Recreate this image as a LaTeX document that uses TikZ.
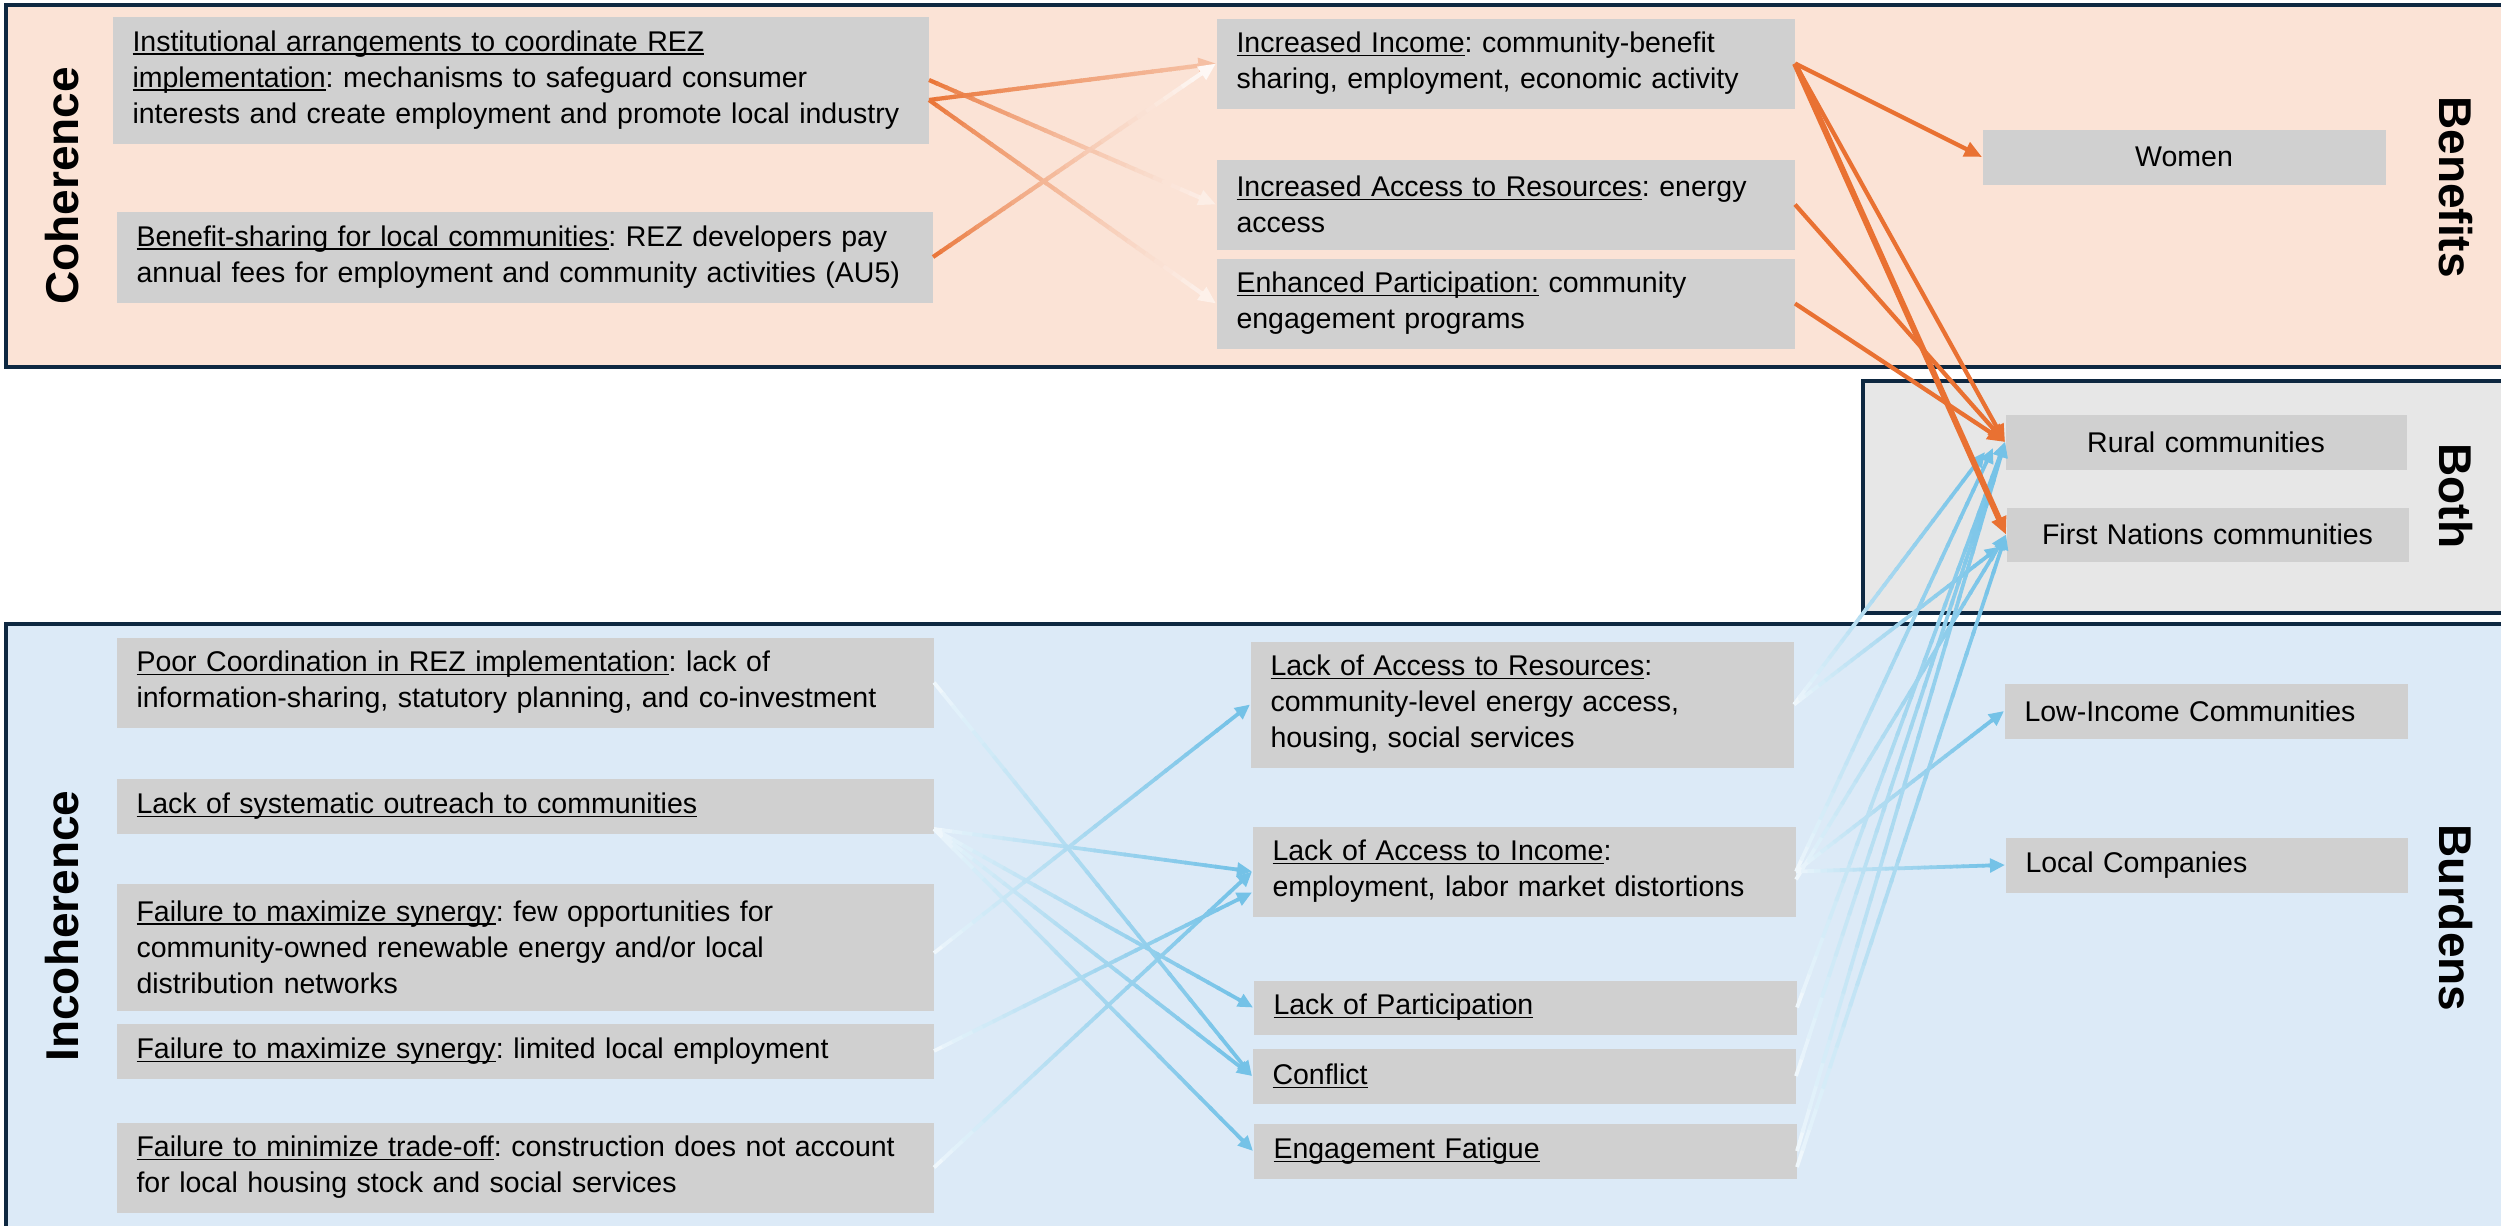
\documentclass[tikz,border=0pt]{standalone}
\usepackage{fontspec}
\setmainfont{Liberation Sans}
\usetikzlibrary{calc,arrows.meta}

\definecolor{peach}{HTML}{FBE3D6}
\definecolor{skyb}{HTML}{DCEAF7}
\definecolor{bothg}{HTML}{E7E7E7}
\definecolor{boxg}{HTML}{D0D0D0}
\definecolor{navy}{HTML}{0E2841}
\definecolor{orng}{HTML}{E97132}
\definecolor{bluA}{HTML}{74C2E7}
\definecolor{bluS}{HTML}{F4F9FD}

% underline set just below the baseline
\newcommand\udl[1]{\leavevmode\setbox0\hbox{#1}\rlap{\rule[-1.4pt]{\wd0}{0.55pt}}\box0\relax}
\newcommand\bodyfont{\frenchspacing\fontsize{11.4pt}{14.4pt}\selectfont}
\newcommand\headfont{\fontsize{18.4pt}{22pt}\selectfont\bfseries}

% connector whose colour runs from #3 (start) to #4 (end), tip length #5 pt, tip width #6 pt, line width #7
\newcommand\nseg{30}
\newcommand\fadearrow[7]{%
  \coordinate (fa-s) at #1;
  \coordinate (fa-e) at #2;
  \coordinate (fa-b) at ($(fa-e)!#5pt!(fa-s)$);
  \coordinate (fa-c) at ($(fa-e)!#5pt+0.6pt!(fa-s)$);
  \foreach \i in {1,...,\nseg}{%
    \pgfmathsetmacro\ta{max(0,(\i-1.2)/\nseg)}%
    \pgfmathsetmacro\tb{\i/\nseg}%
    \pgfmathtruncatemacro\pc{100*((\i-0.5)/\nseg)^0.75}%
    \draw[line width=#7, draw={#4!\pc!#3}] ($(fa-s)!\ta!(fa-b)$) -- ($(fa-s)!\tb!(fa-b)$);
  }
  \draw[line width=#7, draw=#4, -{Triangle[length=#5pt,width=#6pt]}] (fa-c) -- (fa-e);
}

\tikzset{
  tbox/.style={fill=boxg, anchor=north west, inner xsep=8pt, inner ysep=0pt,
    align=left, font=\bodyfont},
  boxwh/.code 2 args={%
    \pgfmathsetlengthmacro\bxw{#1*0.4pt}%
    \pgfmathsetlengthmacro\bxt{(#1-40)*0.4pt}%
    \pgfmathsetlengthmacro\bxh{#2*0.4pt}%
    \pgfkeysalso{minimum width=\bxw, text width=\bxt, minimum height=\bxh}},
  cbox/.style={tbox, align=center},
  head/.style={font=\headfont, inner sep=0pt},
  frame/.style={draw=navy, line width=1.8pt},
  oarrow/.style={draw=orng, line width=1.7pt, -{Triangle[length=7pt,width=6pt]}},
}

\begin{document}
\begin{tikzpicture}[x=0.4pt, y=-0.4pt]
\useasboundingbox (0,0) rectangle (2501,1226);
\clip (0,0) rectangle (2501,1226);
\fill[white] (0,0) rectangle (2501,1226);

% section frames
\draw[frame, fill=peach] (6,5) rectangle (2540,367);
\draw[frame, fill=bothg] (1863,381) rectangle (2540,613);
\draw[frame, fill=skyb] (6,624) rectangle (2540,1250);

% section headings
\node[head, rotate=90]  (hCoh)  at (62,186)   {Coherence};
\node[head, rotate=90]  (hInc)  at (62,926)   {Incoherence};
\node[head, rotate=-90] (hBen)  at (2456,187) {Benefits};
\node[head, rotate=-90] (hBoth) at (2456,496) {Both};
\node[head, rotate=-90] (hBur)  at (2456,918) {Burdens};

% coherent measures
\node[tbox, boxwh={816}{127}] (C1) at (112,16)
  {\udl{Institutional arrangements to coordinate REZ}\\\udl{implementation}: mechanisms to safeguard consumer\\interests and create employment and promote local industry};
\node[tbox, boxwh={816}{91}] (C2) at (116,211)
  {\udl{Benefit-sharing for local communities}: REZ developers pay\\annual fees for employment and community activities (AU5)};

% benefits
\node[tbox, boxwh={578}{90}] (B1) at (1216,18)
  {\udl{Increased Income}: community-benefit\\sharing, employment, economic activity};
\node[tbox, boxwh={578}{90}] (B2) at (1216,159)
  {\udl{Increased Access to Resources}: energy\\access};
\node[tbox, boxwh={578}{90}] (B3) at (1216,258)
  {\udl{Enhanced Participation:} community\\engagement programs};

% groups
\node[cbox, boxwh={403}{55}] (Women) at (1982,129) {Women};
\node[cbox, boxwh={401}{55}] (Rural) at (2005,414) {Rural communities};
\node[cbox, boxwh={402}{54}] (FN)    at (2006,507) {First Nations communities};
\node[tbox, boxwh={403}{55}] (LI)    at (2004,683) {Low-Income Communities};
\node[tbox, boxwh={402}{55}] (LC)    at (2005,837) {Local Companies};

% incoherent measures
\node[tbox, boxwh={817}{90}] (I1) at (116,637)
  {\udl{Poor Coordination in REZ implementation}: lack of\\information-sharing, statutory planning, and co-investment};
\node[tbox, boxwh={817}{55}] (I2) at (116,778)
  {\udl{Lack of systematic outreach to communities}};
\node[tbox, boxwh={817}{127}] (I3) at (116,883)
  {\udl{Failure to maximize synergy}: few opportunities for\\community-owned renewable energy and/or local\\distribution networks};
\node[tbox, boxwh={817}{55}] (I4) at (116,1023)
  {\udl{Failure to maximize synergy}: limited local employment};
\node[tbox, boxwh={817}{90}] (I5) at (116,1122)
  {\udl{Failure to minimize trade-off}: construction does not account\\for local housing stock and social services};

% burdens
\node[tbox, boxwh={543}{126}] (M1) at (1250,641)
  {\udl{Lack of Access to Resources}:\\community-level energy access,\\housing, social services};
\node[tbox, boxwh={543}{90}] (M2) at (1252,826)
  {\udl{Lack of Access to Income}:\\employment, labor market distortions};
\node[tbox, boxwh={543}{54}] (M3) at (1253,980) {\udl{Lack of Participation}};
\node[tbox, boxwh={543}{55}] (M4) at (1252,1048) {\udl{Conflict}};
\node[tbox, boxwh={543}{55}] (M5) at (1253,1123) {\udl{Engagement Fatigue}};

% incoherent measures to burdens
\fadearrow{(I1.east)}{(M4.west)}{bluS}{bluA}{6}{5.4}{1.5pt}
\fadearrow{($(I2.south east)+(0,-5)$)}{(M2.west)}{bluS}{bluA}{6}{5.4}{1.5pt}
\fadearrow{($(I2.south east)+(0,-5)$)}{(M3.west)}{bluS}{bluA}{6}{5.4}{1.5pt}
\fadearrow{($(I2.south east)+(0,-5)$)}{(M4.west)}{bluS}{bluA}{6}{5.4}{1.5pt}
\fadearrow{($(I2.south east)+(0,-5)$)}{(M5.west)}{bluS}{bluA}{6}{5.4}{1.5pt}
\fadearrow{($(I3.east)+(0,6)$)}{(M1.west)}{bluS}{bluA}{6}{5.4}{1.5pt}
\fadearrow{(I4.east)}{($(M2.west)+(0,21)$)}{bluS}{bluA}{6}{5.4}{1.5pt}
\fadearrow{(I5.east)}{(M2.west)}{bluS}{bluA}{6}{5.4}{1.5pt}

% burdens to groups
\fadearrow{(M1.east)}{($(Rural.west)+(-20,10)$)}{bluS}{bluA}{6}{5.4}{1.5pt}
\fadearrow{(M1.east)}{($(FN.west)+(-6,12)$)}{bluS}{bluA}{6}{5.4}{1.5pt}
\fadearrow{(M2.east)}{($(Rural.west)+(-12,6)$)}{bluS}{bluA}{6}{5.4}{1.5pt}
\fadearrow{($(M2.east)+(0,8)$)}{(FN.west)}{bluS}{bluA}{6}{5.4}{1.5pt}
\fadearrow{(M2.east)}{(LI.west)}{bluS}{bluA}{6}{5.4}{1.5pt}
\fadearrow{(M2.east)}{(LC.west)}{bluS}{bluA}{6}{5.4}{1.5pt}
\fadearrow{(M3.east)}{(Rural.west)}{bluS}{bluA}{6}{5.4}{1.5pt}
\fadearrow{(M4.east)}{(Rural.west)}{bluS}{bluA}{6}{5.4}{1.5pt}
\fadearrow{(M5.east)}{(Rural.west)}{bluS}{bluA}{6}{5.4}{1.5pt}
\fadearrow{($(M5.east)+(0,16)$)}{(FN.west)}{bluS}{bluA}{6}{5.4}{1.5pt}

% coherent measures to benefits
\fadearrow{(C1.east)}{(B2.west)}{orng}{orng!12!white}{7}{6}{1.7pt}
\fadearrow{($(C1.east)+(0,20)$)}{(B1.west)}{orng}{orng!45!white}{7}{6}{1.7pt}
\fadearrow{($(C1.east)+(0,20)$)}{(B3.west)}{orng}{orng!10!white}{7}{6}{1.7pt}
\fadearrow{(C2.east)}{(B1.west)}{orng}{orng!5!white}{7}{6}{1.7pt}

% benefits to groups
\draw[oarrow] (B1.east) -- (Women.west);
\draw[oarrow] (B1.east) -- (Rural.west);
\draw[oarrow, line width=2.4pt] (B1.east) -- (FN.west);
\draw[oarrow] (B2.east) -- (Rural.west);
\draw[oarrow] (B3.east) -- (Rural.west);
\end{tikzpicture}
\end{document}
